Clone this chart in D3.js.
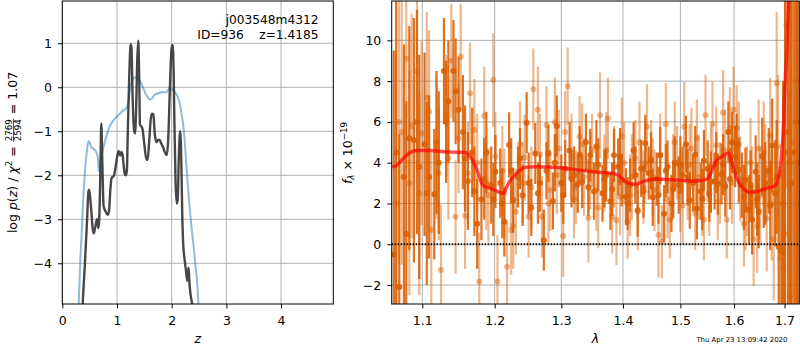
<!DOCTYPE html>
<html>
<head>
<meta charset="utf-8">
<script src="https://cdn.jsdelivr.net/npm/d3@7"></script>
<style>
body { margin: 0; background: #fff; }
svg { font-family: "DejaVu Sans", sans-serif; }
</style>
</head>
<body>
<svg id="fig" width="800" height="350"></svg>
<script>
// ticks
const zTicks = [0, 1, 2, 3, 4];
const logpTicks = [-4, -3, -2, -1, 0, 1];
const lamTicks = [1.1, 1.2, 1.3, 1.4, 1.5, 1.6, 1.7];
const fluxTicks = [-2, 0, 2, 4, 6, 8, 10];

// left panel: p(z) curves
const zBlue = [0.265, 0.30, 0.33, 0.355, 0.38, 0.40, 0.42, 0.45, 0.48, 0.50, 0.53, 0.57, 0.60, 0.63, 0.65, 0.665, 0.69, 0.713, 0.75, 0.79, 0.84, 0.88, 0.93, 0.97, 1.02, 1.06, 1.12, 1.17, 1.21, 1.24, 1.27, 1.30, 1.33, 1.36, 1.39, 1.42, 1.46, 1.50, 1.54, 1.57, 1.60, 1.63, 1.66, 1.70, 1.75, 1.79, 1.83, 1.87, 1.91, 1.95, 1.98, 2.01, 2.05, 2.09, 2.12, 2.15, 2.18, 2.21, 2.24, 2.27, 2.30, 2.33, 2.36, 2.40, 2.43, 2.46, 2.49, 2.51];
const logpBlue = [-5.5, -4.93, -3.9, -3.3, -2.6, -2.2, -1.8, -1.45, -1.22, -1.25, -1.37, -1.4, -1.43, -1.5, -1.6, -1.9, -1.75, -1.58, -1.38, -1.18, -0.98, -0.86, -0.76, -0.7, -0.64, -0.59, -0.52, -0.48, -0.3, -0.05, 0.12, 0.2, 0.22, 0.22, 0.2, 0.15, 0.05, -0.08, -0.18, -0.24, -0.28, -0.27, -0.22, -0.16, -0.14, -0.12, -0.11, -0.12, -0.1, -0.04, -0.02, -0.05, -0.1, -0.17, -0.25, -0.38, -0.6, -0.85, -1.25, -1.8, -2.3, -2.75, -3.15, -3.6, -4.0, -4.35, -4.93, -5.5];

const zDark = [0.355, 0.373, 0.41, 0.45, 0.482, 0.50, 0.53, 0.555, 0.574, 0.60, 0.634, 0.66, 0.685, 0.70, 0.713, 0.73, 0.755, 0.79, 0.83, 0.855, 0.88, 0.905, 0.94, 0.97, 1.00, 1.03, 1.06, 1.08, 1.10, 1.12, 1.145, 1.165, 1.18, 1.20, 1.225, 1.25, 1.265, 1.285, 1.31, 1.33, 1.35, 1.37, 1.39, 1.405, 1.42, 1.45, 1.47, 1.50, 1.54, 1.56, 1.59, 1.615, 1.64, 1.665, 1.69, 1.72, 1.75, 1.78, 1.81, 1.84, 1.87, 1.91, 1.94, 1.96, 1.98, 2.00, 2.018, 2.035, 2.05, 2.07, 2.09, 2.11, 2.13, 2.155, 2.175, 2.195, 2.21, 2.235, 2.26, 2.285, 2.30, 2.31, 2.325, 2.35, 2.38, 2.40];
const logpDark = [-5.5, -4.93, -4.08, -3.1, -2.33, -2.4, -2.8, -3.2, -3.32, -3.2, -3.0, -3.2, -2.6, -1.6, -0.82, -1.6, -2.7, -2.82, -2.9, -2.8, -2.3, -2.05, -2.02, -1.85, -1.6, -1.45, -1.55, -1.47, -1.52, -1.75, -1.98, -2.0, -1.9, -0.9, 0.3, 0.98, 0.9, -0.2, -0.95, -1.05, -0.5, 0.6, 1.06, 0.3, -0.85, -0.9, -0.97, -1.3, -1.65, -1.65, -1.2, -0.75, -0.6, -0.62, -1.05, -1.25, -1.2, -1.2, -1.28, -1.35, -1.46, -1.54, -1.1, -0.3, 0.47, 0.9, 0.96, 0.4, -0.8, -2.1, -2.64, -2.55, -1.6, -1.0, -1.6, -3.0, -3.55, -3.9, -4.15, -4.4, -4.2, -4.1, -4.45, -4.75, -5.0, -5.4];

// right panel: spectrum, darker orientation
const waveA = [1.063, 1.070, 1.076, 1.083, 1.089, 1.096, 1.103, 1.109, 1.116, 1.122, 1.129, 1.135, 1.142, 1.149, 1.155, 1.162, 1.168, 1.175, 1.181, 1.188, 1.195, 1.201, 1.208, 1.214, 1.221, 1.227, 1.234, 1.241, 1.247, 1.254, 1.260, 1.267, 1.273, 1.280, 1.287, 1.293, 1.300, 1.306, 1.313, 1.320, 1.326, 1.333, 1.339, 1.346, 1.352, 1.359, 1.366, 1.372, 1.379, 1.385, 1.392, 1.398, 1.405, 1.412, 1.418, 1.425, 1.431, 1.438, 1.444, 1.451, 1.458, 1.464, 1.471, 1.477, 1.484, 1.490, 1.497, 1.504, 1.510, 1.517, 1.523, 1.530, 1.537, 1.543, 1.550, 1.556, 1.563, 1.569, 1.576, 1.583, 1.589, 1.596, 1.602, 1.609, 1.615, 1.622, 1.629, 1.635, 1.642, 1.648, 1.655, 1.661, 1.668, 1.675, 1.681, 1.688, 1.694, 1.701, 1.707, 1.714, 1.720, 1.727,
    1.066, 1.079, 1.093, 1.106, 1.119, 1.132, 1.145, 1.158, 1.171, 1.185, 1.198, 1.211, 1.224, 1.237, 1.250, 1.264, 1.277, 1.290, 1.303, 1.316, 1.329, 1.343, 1.356, 1.369, 1.382, 1.395, 1.408, 1.421, 1.435, 1.448, 1.461, 1.474, 1.487, 1.500, 1.513, 1.527, 1.540, 1.553, 1.566, 1.579, 1.592, 1.605, 1.619, 1.632, 1.645, 1.658, 1.671, 1.684, 1.697, 1.711, 1.724];
const fluxA = [-0.5, -2.1, 3.3, 5.2, 5.1, 3.8, 4.9, 3.3, 2.45, 4.0, 8.5, 7.0, 8.5, 6.6, 5.5, 3.1, 4.5, 1.0, 2.2, 4.5, 2.9, 3.56, 3.0, 1.1, 4.87, 2.17, 3.3, 2.4, 5.96, 1.8, 4.45, 3.0, 0.2, 4.45, 2.12, 5.8, 3.0, 3.7, 4.6, 3.4, 2.94, 3.07, 5.0, 4.37, 2.6, 3.9, 2.5, 3.4, 2.1, 4.37, 3.8, 3.15, 2.33, 2.9, 4.6, 1.67, 3.72, 4.95, 3.5, 2.3, 3.2, 4.35, 1.5, 3.8, 2.0, 4.0, 2.9, 3.4, 4.9, 2.16, 3.0, 1.75, 2.6, 4.1, 3.7, 3.05, 3.1, 2.95, 3.45, 2.85, 5.5, 5.0, 4.3, 3.64, 2.9, 3.15, 1.68, 1.2, 3.55, 1.6, 4.3, 3.0, 3.6, 4.85, 2.5, -0.12, -0.37, 4.5, 5.5, 3.0, 4.5, 4.0,
    4.5, 0.5, 6.0, 2.5, 5.0, 6.0, 7.5, 4.2, 2.6, 3.2, 2.2, 2.0, 3.6, 4.2, 3.0, 2.5, 3.6, 4.0, 2.4, 3.2, 4.4, 2.8, 4.8, 3.2, 2.7, 4.3, 2.0, 3.4, 2.6, 4.1, 2.4, 3.6, 2.7, 3.9, 3.3, 4.4, 2.2, 2.5, 4.0, 3.9, 3.2, 4.9, 2.3, 2.9, 2.2, 2.7, 1.9, 3.3, 2.0, 4.0, 6.0];
const errA = [10, 7.5, 6.5, 5.5, 6.0, 5.5, 4.5, 4.0, 3.2, 3.5, 2.6, 3.0, 2.5, 2.6, 2.8, 2.4, 2.2, 2.2, 2.0, 2.0, 1.9, 1.8, 1.7, 1.7, 1.6, 1.6, 1.5, 1.5, 1.5, 1.4, 1.5, 1.4, 1.5, 1.4, 1.4, 1.5, 1.4, 1.4, 1.4, 1.4, 1.4, 1.3, 1.4, 1.3, 1.4, 1.3, 1.4, 1.3, 1.4, 1.3, 1.4, 1.3, 1.4, 1.3, 1.4, 1.3, 1.4, 1.4, 1.3, 1.4, 1.3, 1.4, 1.4, 1.3, 1.4, 1.3, 1.4, 1.4, 1.4, 1.4, 1.4, 1.5, 1.4, 1.5, 1.4, 1.5, 1.4, 1.5, 1.5, 1.5, 1.5, 1.5, 1.5, 1.6, 1.6, 1.6, 1.7, 1.7, 1.8, 1.8, 1.9, 2.0, 2.1, 2.3, 2.6, 3.2, 4.0, 9, 12, 12, 14, 14,
    8, 6.5, 5.5, 4.5, 3.5, 3.0, 2.6, 2.6, 2.2, 2.0, 1.8, 1.7, 1.6, 1.5, 1.5, 1.5, 1.4, 1.4, 1.4, 1.4, 1.4, 1.4, 1.3, 1.4, 1.3, 1.4, 1.3, 1.4, 1.3, 1.4, 1.4, 1.3, 1.4, 1.4, 1.4, 1.4, 1.5, 1.4, 1.5, 1.5, 1.5, 1.5, 1.6, 1.7, 1.8, 1.9, 2.2, 2.8, 6, 12, 14];

// right panel: spectrum, lighter orientation
const waveB = [1.066, 1.073, 1.079, 1.086, 1.093, 1.099, 1.106, 1.112, 1.119, 1.125, 1.132, 1.139, 1.145, 1.152, 1.158, 1.165, 1.171, 1.178, 1.185, 1.191, 1.198, 1.204, 1.211, 1.218, 1.224, 1.231, 1.237, 1.244, 1.250, 1.257, 1.264, 1.270, 1.277, 1.283, 1.290, 1.296, 1.303, 1.310, 1.316, 1.323, 1.329, 1.336, 1.343, 1.349, 1.356, 1.362, 1.369, 1.375, 1.382, 1.389, 1.395, 1.402, 1.408, 1.415, 1.421, 1.428, 1.435, 1.441, 1.448, 1.454, 1.461, 1.467, 1.474, 1.481, 1.487, 1.494, 1.500, 1.507, 1.513, 1.520, 1.527, 1.533, 1.540, 1.546, 1.553, 1.559, 1.566, 1.573, 1.579, 1.586, 1.592, 1.599, 1.605, 1.612, 1.619, 1.625, 1.632, 1.638, 1.645, 1.651, 1.658, 1.664, 1.671, 1.678, 1.684, 1.691, 1.697, 1.704, 1.711, 1.717, 1.724,
    1.0695, 1.083, 1.096, 1.109, 1.122, 1.135, 1.149, 1.162, 1.175, 1.188, 1.201, 1.214, 1.227, 1.241, 1.254, 1.267, 1.280, 1.293, 1.306, 1.320, 1.333, 1.346, 1.359, 1.372, 1.385, 1.398, 1.412, 1.425, 1.438, 1.451, 1.464, 1.477, 1.490, 1.504, 1.517, 1.530, 1.543, 1.556, 1.569, 1.583, 1.596, 1.609, 1.622, 1.635, 1.648, 1.661, 1.674, 1.687, 1.700, 1.714, 1.727];
const fluxB = [2.0, 5.5, 9.1, 5.8, 8.5, 5.45, 7.2, 0.7, 4.75, -1.26, 6.3, 9.0, 1.35, 9.2, 1.4, 7.4, 5.6, -1.83, 6.3, 2.4, 8.05, -1.83, 3.6, -1.1, 0.7, 1.6, 4.9, 4.25, 1.35, 7.6, 6.6, 1.35, 5.85, 2.65, 5.98, 4.7, 0.4, 7.75, 4.3, 2.8, 5.27, 3.3, 1.3, 4.6, 2.65, 6.33, 3.5, 6.17, 1.35, 1.18, 2.33, 4.0, 1.1, 3.3, 4.2, 5.0, 2.8, 5.76, 4.2, 2.65, 0.46, 0.13, 5.9, 1.2, 3.3, 4.0, 2.6, 5.76, 3.1, 4.7, 1.5, 3.3, 2.3, 6.33, 2.2, 5.9, 4.85, 3.0, 6.45, 1.2, 5.7, 6.6, 5.7, 3.2, 1.0, 2.6, 4.0, 0.24, 0.9, 2.4, 4.5, 1.27, 5.35, 0.24, 7.9, -0.7, -1.2, 10.75, -2.55, 5.0, 8.0,
    6.0, 3.0, 2.5, 6.5, 3.5, 4.2, 5.2, 3.5, 4.0, 3.0, 4.3, 2.5, 0.9, 3.0, 2.8, 4.4, 2.0, 3.4, 5.5, 2.2, 4.9, 3.6, 1.8, 4.6, 3.8, 5.3, 2.4, 1.6, 4.0, 3.3, 4.4, 2.2, 5.0, 1.9, 3.9, 5.2, 1.2, 3.8, 2.1, 4.6, 3.0, 4.9, 1.8, 2.6, 4.7, 3.4, 2.0, 4.8, 0.5, 3.0, 2.0];
const errB = [7.5, 6.5, 5.5, 5.5, 5.0, 4.5, 4.2, 3.8, 3.5, 3.2, 3.0, 2.8, 2.8, 2.6, 2.6, 2.5, 2.5, 2.4, 2.4, 2.3, 2.3, 2.3, 2.2, 2.2, 2.2, 2.1, 2.1, 2.1, 2.0, 2.0, 2.1, 2.0, 1.9, 2.0, 2.2, 1.9, 2.0, 1.9, 2.1, 1.8, 2.0, 1.9, 2.2, 1.8, 2.0, 2.1, 1.9, 2.0, 1.8, 2.2, 1.9, 2.0, 1.8, 2.1, 1.9, 2.0, 1.8, 2.1, 1.9, 2.0, 2.1, 1.8, 2.0, 1.9, 2.1, 1.8, 2.0, 2.2, 1.9, 2.0, 1.8, 2.1, 1.9, 2.0, 1.8, 2.1, 1.9, 2.0, 2.1, 1.9, 2.0, 2.1, 2.1, 2.1, 2.1, 2.2, 2.2, 2.3, 2.3, 2.4, 2.5, 2.6, 2.8, 3.0, 3.5, 4.5, 5.5, 8, 10, 12, 12,
    7, 5.5, 5.0, 4.0, 3.3, 3.0, 2.7, 2.5, 2.4, 2.3, 2.2, 2.2, 2.1, 2.0, 2.0, 2.0, 2.0, 1.9, 2.0, 1.9, 2.0, 1.9, 2.0, 1.9, 2.0, 1.9, 2.0, 1.9, 2.0, 1.9, 2.0, 1.9, 2.0, 1.9, 2.0, 1.9, 2.0, 2.0, 1.9, 2.0, 2.0, 2.1, 2.1, 2.2, 2.4, 2.5, 2.8, 3.5, 6, 12, 12];

// best-fit model
const modelWave = [1.061, 1.066, 1.075, 1.084, 1.093, 1.110, 1.125, 1.140, 1.158, 1.165, 1.174, 1.183, 1.197, 1.212, 1.221, 1.231, 1.245, 1.260, 1.298, 1.325, 1.351, 1.387, 1.396, 1.404, 1.420, 1.437, 1.455, 1.496, 1.528, 1.549, 1.558, 1.567, 1.577, 1.589, 1.595, 1.604, 1.617, 1.630, 1.647, 1.663, 1.680, 1.686, 1.693, 1.697, 1.701, 1.705, 1.709];
const modelFlux = [3.8, 3.85, 4.2, 4.5, 4.6, 4.6, 4.55, 4.52, 4.5, 4.3, 3.7, 2.9, 2.7, 2.5, 3.05, 3.45, 3.77, 3.8, 3.75, 3.65, 3.55, 3.45, 3.3, 3.07, 2.94, 3.1, 3.2, 3.15, 3.1, 3.2, 3.6, 4.13, 4.3, 4.48, 4.1, 3.3, 2.75, 2.55, 2.6, 2.75, 2.85, 3.1, 4.1, 5.45, 7.9, 9.7, 12.5];

const svg = d3.select("#fig");
const FONT = "'DejaVu Sans', sans-serif";
const L = { x0: 62.3, x1: 333.3, y0: 1, y1: 304 };
const R = { x0: 391.7, x1: 799.3, y0: 1, y1: 304 };

const xz = d3.scaleLinear().domain([0, 4.955]).range([L.x0, L.x1]);
const yp = d3.scaleLinear().domain([-4.925, 1.96]).range([L.y1, L.y0]);
const xl = d3.scaleLog().domain([1.0603, 1.7304]).range([R.x0, R.x1]);
const yf = d3.scaleLinear().domain([-2.93, 11.93]).range([R.y1, R.y0]);

const minus = d => String(d).replace("-", "\u2212");

function panel(box, x, y, xt, yt, xfmt, id) {
    svg.append("clipPath").attr("id", id)
        .append("rect")
        .attr("x", box.x0).attr("y", box.y0)
        .attr("width", box.x1 - box.x0).attr("height", box.y1 - box.y0);

    // grid
    const grid = svg.append("g").attr("stroke", "#b0b0b0").attr("stroke-width", 1);
    xt.forEach(v => grid.append("line").attr("x1", x(v)).attr("x2", x(v)).attr("y1", box.y0).attr("y2", box.y1));
    yt.forEach(v => grid.append("line").attr("y1", y(v)).attr("y2", y(v)).attr("x1", box.x0).attr("x2", box.x1));

    const gx = svg.append("g")
        .attr("transform", "translate(0," + box.y1 + ")")
        .call(d3.axisBottom(x).tickValues(xt).tickFormat(xfmt).tickSize(4.4).tickPadding(7.5));
    const gy = svg.append("g")
        .attr("transform", "translate(" + box.x0 + ",0)")
        .call(d3.axisLeft(y).tickValues(yt).tickFormat(minus).tickSize(4.4).tickPadding(6));
    [gx, gy].forEach(g => {
        g.select(".domain").remove();
        g.attr("font-family", FONT).attr("font-size", 12.5);
        g.selectAll("text").attr("fill", "#000");
        g.selectAll("line").attr("stroke", "#000").attr("stroke-width", 1);
    });

    return svg.append("g").attr("clip-path", "url(#" + id + ")");
}

function frame(box) {
    svg.append("rect")
        .attr("x", box.x0).attr("y", box.y0)
        .attr("width", box.x1 - box.x0).attr("height", box.y1 - box.y0)
        .attr("fill", "none").attr("stroke", "#000").attr("stroke-width", 1);
}

// ---------- left panel ----------
const gl = panel(L, xz, yp, zTicks, logpTicks, d => d, "clipL");

const lineBlue = d3.line().x(i => xz(zBlue[i])).y(i => yp(logpBlue[i])).curve(d3.curveMonotoneX);
gl.append("path")
    .attr("d", lineBlue(d3.range(zBlue.length)))
    .attr("fill", "none").attr("stroke", "#1f77b4").attr("stroke-opacity", 0.5).attr("stroke-width", 2);

const lineDark = d3.line().x(i => xz(zDark[i])).y(i => yp(logpDark[i])).curve(d3.curveMonotoneX);
gl.append("path")
    .attr("d", lineDark(d3.range(zDark.length)))
    .attr("fill", "none").attr("stroke", "#333").attr("stroke-opacity", 0.9).attr("stroke-width", 2.4)
    .attr("stroke-linejoin", "round");

frame(L);

svg.append("text").attr("x", 318.5).attr("y", 24.3).attr("text-anchor", "end")
    .attr("font-size", 12.2).text("j003548m4312");
svg.append("text").attr("x", 318.5).attr("y", 38.8).attr("text-anchor", "end")
    .attr("font-size", 12.2).attr("xml:space", "preserve").style("white-space", "pre")
    .text("ID=936    z=1.4185");

// x label
svg.append("text").attr("x", (L.x0 + L.x1) / 2).attr("y", 343).attr("text-anchor", "middle")
    .attr("font-size", 12.5).attr("font-style", "italic").text("z");

// y label: log p(z) / chi^2 = 2769/2594 = 1.07
{
    const outer = svg.append("g").attr("transform", "translate(16.7,152.5) rotate(-90)");
    const g = outer.append("g");
    const t1 = g.append("text").attr("font-size", 12.5).attr("xml:space", "preserve").style("white-space", "pre");
    t1.append("tspan").text("log ");
    t1.append("tspan").attr("font-style", "italic").text("p");
    t1.append("tspan").text("(");
    t1.append("tspan").attr("font-style", "italic").text("z");
    t1.append("tspan").text(") / ");
    t1.append("tspan").attr("font-style", "italic").text("\u03c7");
    t1.append("tspan").attr("font-size", 8.7).attr("dy", -5).text("2");
    t1.append("tspan").attr("dy", 5).text(" = ");
    const w1 = t1.node().getComputedTextLength();
    const num = g.append("text").attr("font-size", 8.7).attr("y", -4.6).text("2769");
    const den = g.append("text").attr("font-size", 8.7).attr("y", 4.2).text("2594");
    const fw = Math.max(num.node().getComputedTextLength(), den.node().getComputedTextLength());
    num.attr("x", w1 + 1);
    den.attr("x", w1 + 1);
    g.append("line").attr("x1", w1 + 0.5).attr("x2", w1 + fw + 1.5).attr("y1", -3.2).attr("y2", -3.2)
        .attr("stroke", "#000").attr("stroke-width", 0.7);
    const t3 = g.append("text").attr("font-size", 12.5).attr("x", w1 + fw + 2)
        .attr("xml:space", "preserve").style("white-space", "pre").text(" = 1.07");
    const total = w1 + fw + 2 + t3.node().getComputedTextLength();
    g.attr("transform", "translate(" + (-total / 2) + ",0)");
}

// ---------- right panel ----------
const gr = panel(R, xl, yf, lamTicks, fluxTicks, d3.format(".1f"), "clipR");
const ORANGE = "#d95f02";

function spectrum(wave, flux, err, alpha) {
    const g = gr.append("g");
    g.selectAll("line").data(d3.range(wave.length)).join("line")
        .attr("x1", i => xl(wave[i])).attr("x2", i => xl(wave[i]))
        .attr("y1", i => yf(flux[i] - err[i])).attr("y2", i => yf(flux[i] + err[i]))
        .attr("stroke", ORANGE).attr("stroke-opacity", alpha).attr("stroke-width", 2.2);
    g.selectAll("circle").data(d3.range(wave.length)).join("circle")
        .attr("cx", i => xl(wave[i])).attr("cy", i => yf(flux[i])).attr("r", 3)
        .attr("fill", ORANGE).attr("fill-opacity", alpha);
}
spectrum(waveB, fluxB, errB, 0.45);
spectrum(waveA, fluxA, errA, 0.88);

const lineModel = d3.line().x(i => xl(modelWave[i])).y(i => yf(modelFlux[i])).curve(d3.curveMonotoneX);
gr.append("path")
    .attr("d", lineModel(d3.range(modelWave.length)))
    .attr("fill", "none").attr("stroke", "#ff0000").attr("stroke-opacity", 0.7).attr("stroke-width", 3.4)
    .attr("stroke-linejoin", "round");

gr.append("line")
    .attr("x1", R.x0).attr("x2", R.x1).attr("y1", yf(0)).attr("y2", yf(0))
    .attr("stroke", "#111").attr("stroke-width", 2).attr("stroke-dasharray", "1.4,1.6");

frame(R);

svg.append("text").attr("x", (R.x0 + R.x1) / 2).attr("y", 343).attr("text-anchor", "middle")
    .attr("font-size", 12.5).attr("font-style", "italic").text("\u03bb");

// y label: f_lambda x 10^-19
{
    const t = svg.append("text").attr("font-size", 12.5).attr("text-anchor", "middle")
        .attr("transform", "translate(351.5,153) rotate(-90)");
    t.append("tspan").attr("font-style", "italic").text("f");
    t.append("tspan").attr("font-style", "italic").attr("font-size", 8.7).attr("dy", 2.5).text("\u03bb");
    t.append("tspan").attr("dy", -2.5).text(" \u00d7 10");
    t.append("tspan").attr("font-size", 8.7).attr("dy", -5).text("\u221219");
}

// timestamp
svg.append("text").attr("x", 787.3).attr("y", 342).attr("text-anchor", "end")
    .attr("font-size", 6.9).text("Thu Apr 23 13:09:42 2020");
</script>
</body>
</html>
